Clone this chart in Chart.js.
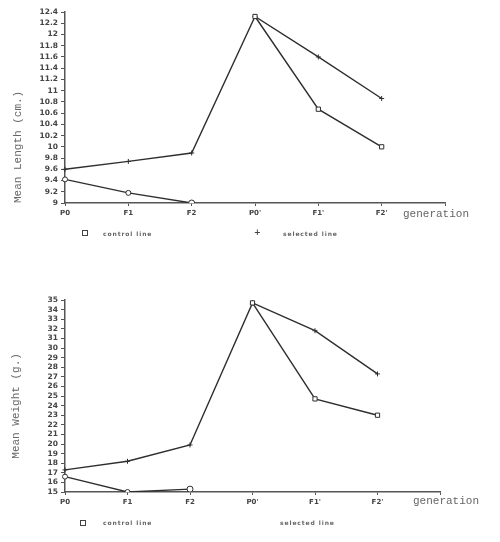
<!DOCTYPE html>
<html>
<head>
<meta charset="utf-8">
<script src="https://cdn.jsdelivr.net/npm/chart.js@4.4.1/dist/chart.umd.min.js"></script>
<style>
    body { margin: 0; background: #fff; width: 500px; height: 542px; position: relative; overflow: hidden; }
    canvas { position: absolute; left: 0; }
    .gen { position: absolute; font: 11px "Liberation Mono", monospace; color: #666; white-space: nowrap; }
    .leg { position: absolute; font: bold 6px "DejaVu Sans", sans-serif; letter-spacing: 0.9px; color: #666; white-space: nowrap; }
    .box { position: absolute; width: 4px; height: 4px; border: 1px solid #444; }
    .plus { position: absolute; font: bold 8px "DejaVu Sans", sans-serif; color: #444; }
</style>
</head>
<body>
<canvas id="lengthChart" width="500" height="229" style="top:0"></canvas>
<canvas id="weightChart" width="500" height="248" style="top:270px"></canvas>

<div class="gen" style="left:403px;top:208px">generation</div>
<div class="box" style="left:82px;top:230px"></div>
<div class="leg" style="left:103px;top:230px">control line</div>
<div class="plus" style="left:254px;top:228px">+</div>
<div class="leg" style="left:283px;top:230px">selected line</div>

<div class="gen" style="left:413px;top:495px">generation</div>
<div class="box" style="left:80px;top:520px"></div>
<div class="leg" style="left:103px;top:519px">control line</div>
<div class="leg" style="left:280px;top:519px">selected line</div>

<script>
const generations = ['P0', 'F1', 'F2', "P0'", "F1'", "F2'", ''];

const lengthControl = [9.42, 9.18, 9.0, 12.32, 10.67, 10.0];
const lengthSelected = [9.6, 9.74, 9.89, 12.32, 11.6, 10.86];

const weightControl = [16.6, 15.0, 15.3, 34.7, 24.7, 23.0];
const weightSelected = [17.3, 18.2, 19.9, 34.7, 31.8, 27.3];

const ink = '#2e2e2e';
const axisColor = '#555';

function makeChart(id, control, selected, yMin, yMax, step, title, titleAlign, titlePad, pad) {
    const ctx = document.getElementById(id).getContext('2d');
    return new Chart(ctx, {
        type: 'line',
        data: {
            labels: generations,
            datasets: [
                {
                    label: 'control line',
                    data: control,
                    borderColor: ink,
                    borderWidth: 1.4,
                    backgroundColor: '#fff',
                    pointStyle: ['circle', 'circle', 'circle', 'rect', 'rect', 'rect'],
                    pointRadius: [2.5, 2.5, 3, 3, 3, 3],
                    pointBorderColor: ink,
                    pointBorderWidth: 1,
                    tension: 0,
                    // no link between F2 and P0'
                    segment: { borderColor: c => c.p0DataIndex === 2 ? 'rgba(0,0,0,0)' : ink }
                },
                {
                    label: 'selected line',
                    data: selected,
                    borderColor: ink,
                    borderWidth: 1.4,
                    pointStyle: 'cross',
                    pointRadius: 2.5,
                    pointBorderColor: ink,
                    pointBorderWidth: 1,
                    tension: 0
                }
            ]
        },
        options: {
            responsive: false,
            animation: false,
            devicePixelRatio: 1,
            layout: { padding: pad },
            plugins: { legend: { display: false }, tooltip: { enabled: false } },
            scales: {
                x: {
                    type: 'category',
                    offset: false,
                    afterFit: s => { s.height = 26; },
                    grid: { drawOnChartArea: false, tickLength: 3, color: axisColor },
                    border: { color: axisColor, width: 1.5 },
                    ticks: {
                        autoSkip: false, maxRotation: 0, padding: 3,
                        color: '#444', font: { family: 'DejaVu Sans', size: 7, weight: 'bold' }
                    }
                },
                y: {
                    min: yMin,
                    max: yMax,
                    afterFit: s => { s.width = 65 - pad.left; },
                    grid: { drawOnChartArea: false, tickLength: 4, color: axisColor },
                    border: { color: axisColor, width: 1.5 },
                    ticks: {
                        stepSize: step, autoSkip: false, padding: 3,
                        color: '#444', font: { family: 'DejaVu Sans', size: 7.5, weight: 'bold', lineHeight: 1 },
                        callback: v => String(Number(v.toFixed(1)))
                    },
                    title: {
                        display: true, text: title, align: titleAlign, padding: { top: titlePad },
                        color: '#666', font: { family: 'Liberation Mono', size: 11 }
                    }
                }
            }
        }
    });
}

makeChart('lengthChart', lengthControl, lengthSelected, 9, 12.4, 0.2,
    'Mean Length (cm.)', 'start', 11, { left: 0, top: 12, right: 55, bottom: 0 });
// trailing spaces nudge the centred title down a little, like the scan
makeChart('weightChart', weightControl, weightSelected, 15, 35, 1,
    'Mean Weight (g.)   ', 'center', 9, { left: 0, top: 30, right: 60, bottom: 0 });
</script>
</body>
</html>
